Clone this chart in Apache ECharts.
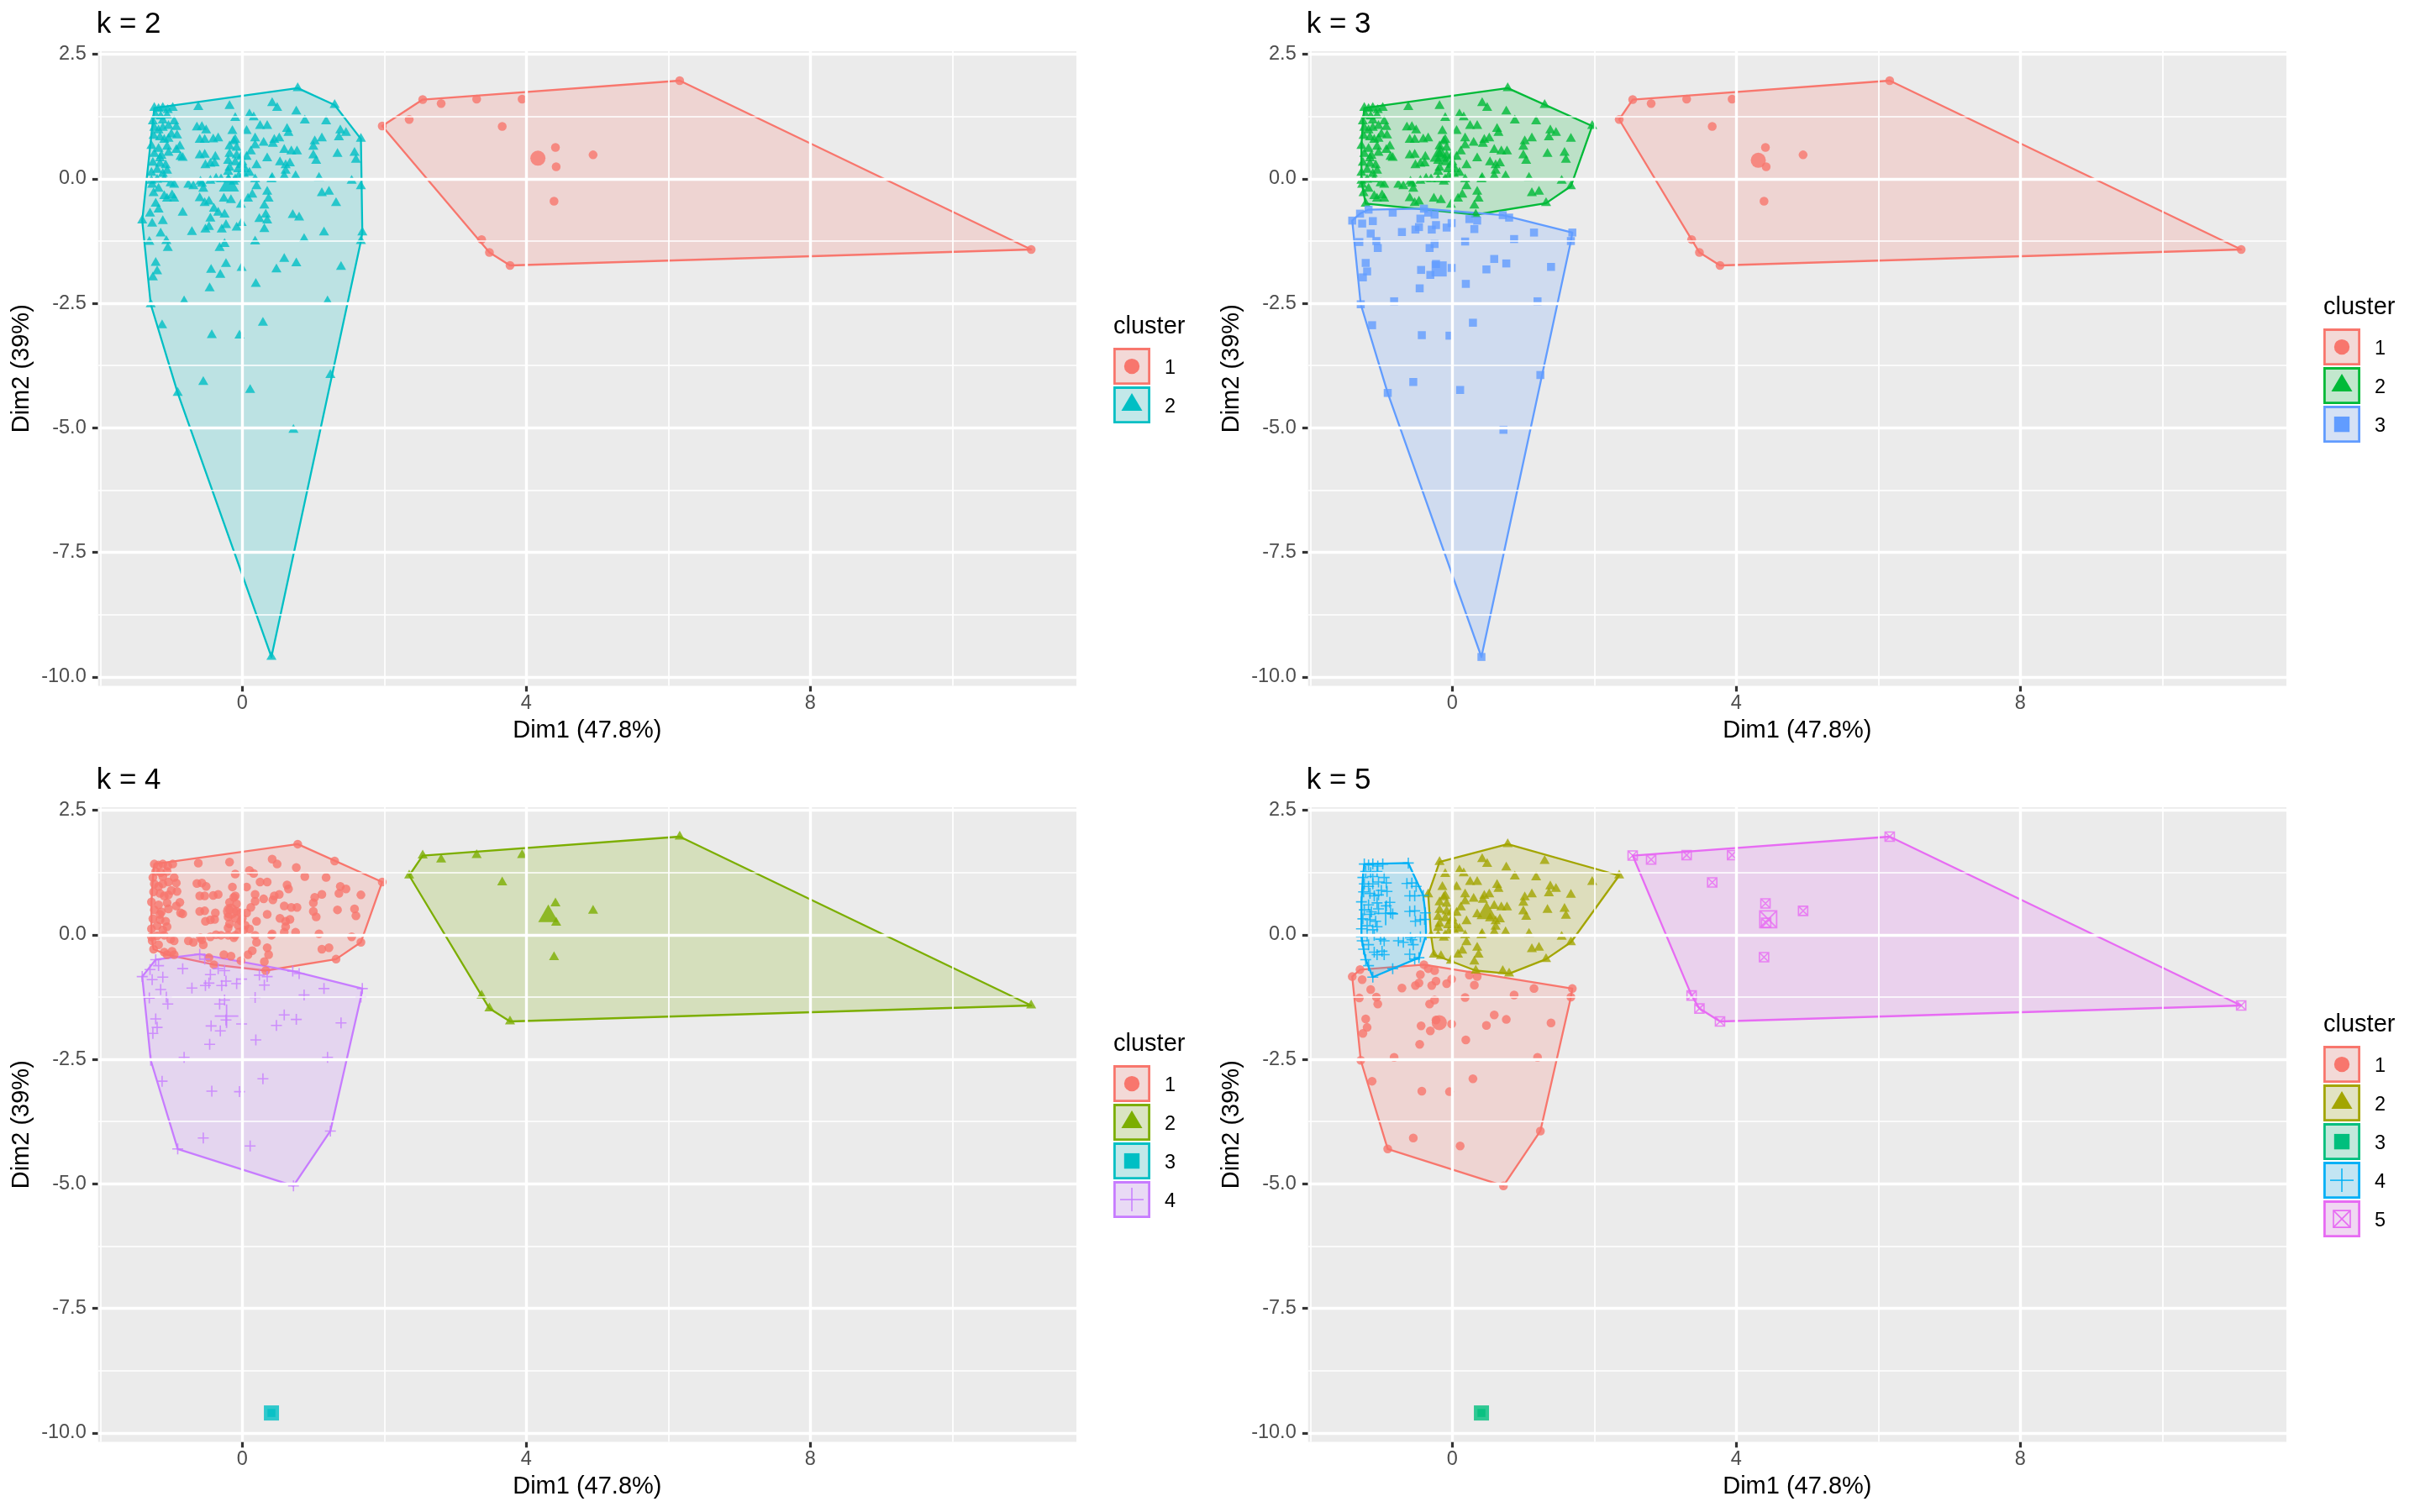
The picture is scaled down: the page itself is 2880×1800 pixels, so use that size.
<!DOCTYPE html>
<html>
<head>
<meta charset="utf-8">
<script src="https://cdn.jsdelivr.net/npm/echarts@6/dist/echarts.min.js"></script>
<style>html,body{margin:0;padding:0;background:#fff}#chart{width:2880px;height:1800px}</style>
</head>
<body>
<div id="chart"></div>
<script>
// ---------------- DATA ----------------
const kValues = [2, 3, 4, 5];
const clusterColors = {
  2: ['#F8766D', '#00BFC4'],
  3: ['#F8766D', '#00BA38', '#619CFF'],
  4: ['#F8766D', '#7CAE00', '#00BFC4', '#C77CFF'],
  5: ['#F8766D', '#A3A500', '#00BF7D', '#00B0F6', '#E76BF3']
};
const xTickValues = [0, 4, 8];
const xMinorValues = [-2, 2, 6, 10];
const yTickValues = [-10, -7.5, -5, -2.5, 0, 2.5];
const yMinorValues = [-8.75, -6.25, -3.75, -1.25, 1.25];
const xTitle = 'Dim1 (47.8%)';
const yTitle = 'Dim2 (39%)';
const legendTitle = 'cluster';

// point groups: Dim1 values, Dim2 values, cluster for k = 2,3,4,5
const rightX = [2.54, 2.80, 3.30, 3.94, 3.66, 6.16, 4.41, 4.94, 4.42, 4.39, 3.37, 3.48, 3.77, 11.11];
const rightY = [1.59, 1.51, 1.60, 1.60, 1.05, 1.97, 0.63, 0.48, 0.24, -0.45, -1.22, -1.48, -1.74, -1.42];
const rightK = [1, 1, 2, 5];

const bridgeAX = [1.97];
const bridgeAY = [1.06];
const bridgeAK = [1, 2, 1, 2];

const bridgeBX = [2.35];
const bridgeBY = [1.19];
const bridgeBK = [1, 1, 2, 2];

const outlierX = [0.41];
const outlierY = [-9.60];
const outlierK = [2, 3, 3, 3];

const lowerX = [-1.41, -1.27, -1.30, -1.15, -1.07, -1.05, -1.31, -1.22, -1.20, -1.26, -1.29, -0.82, -1.13,
  -0.71, -0.52, -0.47, -0.45, -0.34, -0.25, -0.29, -0.23, -0.25, -0.32, -0.44, -0.31, -0.46,
  -0.01, -0.08, -0.01,
  0.24, 0.35, 0.31, 0.18, 0.19, 0.48, 0.59, 0.76, 0.87, 1.15, 1.69, 1.67, 1.39, 1.20, 0.29,
  -0.43, -0.04, -0.55, 0.11, -0.91, 1.24, 0.72, -0.23];
const lowerY = [-0.84, -0.90, -0.70, -1.10, -1.25, -1.39, -1.27, -1.69, -1.86, -1.98, -2.52, -2.46, -2.94,
  -1.07, -1.02, -0.97, -0.80, -0.68, -0.72, -1.02, -0.93, -1.31, -1.39, -1.83, -1.93, -2.20,
  -1.79, -0.98, -0.89,
  -0.81, -0.84, -1.01, -1.26, -2.11, -1.82, -1.61, -1.70, -1.21, -1.08, -1.08, -1.25, -1.77, -2.46, -2.89,
  -3.14, -3.15, -4.08, -4.24, -4.30, -3.94, -5.04, -1.71];
const lowerK = [2, 3, 4, 1];

const lowerTopX = [-0.40];
const lowerTopY = [-0.60];
const lowerTopK = [2, 3, 1, 1];

const oliveX = [0.78, 1.30, 1.67, -0.18, 0.42, 0.49, 0.76, 0.88, 1.18, 0.10,
  -0.10, 0.16, 0.25, 0.35, 0.06, -0.14, -0.34, -0.10, 0.18, 0.30,
  0.45, 0.63, 0.65, 1.38, 1.46, 1.36, 1.12, 1.02, 1.00, 0.59,
  0.69, 0.77, 1.34, 1.58, 1.60, 1.00, 1.04, 0.53, 0.61, 0.18,
  0.35, 0.20, -0.12, -0.18, -0.08, -0.02, 0.06, -0.20, -0.10, 0.00,
  -0.18, -0.06, 0.04, -0.30, -0.20, -0.10, 0.18, 0.20, 0.41, 0.59,
  0.75, 1.08, 1.54, 1.67, 1.12, 1.22, 1.32, 0.35, 0.37, 0.31,
  0.14, 0.08, -0.02, -0.26, 0.33,
  0.67, 0.61, 0.42, -0.16, -0.12, -0.20, -0.18, -0.08, 0.43, 0.52, -0.05, 0.02, 0.10, -0.02, 0.12];
const oliveY = [1.82, 1.48, 0.80, 1.46, 1.52, 1.42, 1.35, 1.17, 1.15, 1.29,
  1.22, 1.23, 1.06, 1.06, 0.96, 0.96, 0.81, 0.78, 0.81, 0.72,
  0.78, 1.00, 0.92, 0.97, 0.92, 0.83, 0.81, 0.75, 0.64, 0.58,
  0.55, 0.55, 0.50, 0.52, 0.38, 0.47, 0.36, 0.33, 0.27, 0.67,
  0.41, 0.27, 0.75, 0.50, 0.47, 0.44, 0.44, 0.36, 0.33, 0.33,
  0.22, 0.19, 0.19, -0.01, -0.01, -0.01, -0.01, -0.15, -0.01, 0.05,
  0.05, 0.02, -0.04, -0.15, -0.29, -0.26, -0.49, -0.26, -0.40, -0.54,
  -0.32, -0.40, -0.52, -0.40, -0.72,
  0.31, 0.16, 0.02, -0.43, -0.06, 0.14, 0.65, 0.62, 0.70, 0.81, 0.05, 0.10, 0.12, 0.28, 0.55];
const oliveK = [2, 2, 1, 2];

const oliveLowX = [0.71, 0.80];
const oliveLowY = [-0.73, -0.78];
const oliveLowK = [2, 3, 4, 2];

const crossX = [-1.24, -1.18, -1.12, -1.05, -0.98,
  -1.22, -1.15, -1.06,
  -1.26, -1.12, -0.96,
  -1.24, -1.12, -1.04, -0.93,
  -1.25, -1.16, -1.04, -0.92,
  -1.28, -1.18, -1.06, -0.88,
  -1.24, -1.14, -1.04,
  -1.26, -1.16, -1.08,
  -1.28, -1.20, -1.12, -1.06,
  -1.28, -1.20, -1.10, -1.01, -0.96,
  -1.18, -1.27,
  -1.10, -1.06, -0.96, -0.99,
  -0.62, -0.57, -0.51, -0.53, -0.53, -0.38, -0.39, -0.84, -0.93, -0.87, -1.00, -0.69, -0.59, -0.55, -0.37, -0.47, -0.57,
  -1.18, -1.10, -1.16, -1.25, -0.76, -0.45, -0.60, -0.52, -0.45, -0.41, -0.60, -0.64];
const crossY = [1.42, 1.40, 1.42, 1.38, 1.42,
  1.27, 1.25, 1.27,
  1.15, 1.17, 1.15,
  1.02, 1.02, 1.06, 1.04,
  0.86, 0.83, 0.80, 0.87,
  0.66, 0.60, 0.64, 0.65,
  0.50, 0.46, 0.52,
  0.32, 0.30, 0.27,
  0.12, 0.18, 0.10, 0.16,
  -0.04, -0.02, -0.01, -0.09, -0.12,
  -0.20, -0.12,
  -0.35, -0.40, -0.40, -0.33,
  1.44, 1.04, 0.97, 0.78, 0.48, 0.44, 0.31, 0.42, 0.58, 0.44, 0.89, -0.15, -0.06, -0.20, 0.00, -0.46, -0.10,
  0.97, 0.78, 0.41, -0.29, -0.12, -0.04, 0.47, 0.27, 0.30, 0.79, 0.78, 1.03];
const crossK = [2, 2, 1, 4];

const crossMidX = [-0.60, -0.53, -1.22];
const crossMidY = [-0.39, -0.49, -0.50];
const crossMidK = [2, 2, 4, 4];

const crossLowX = [-0.84, -1.12, -1.18];
const crossLowY = [-0.68, -0.85, -0.62];
const crossLowK = [2, 3, 4, 4];

// ---------------- BUILD ----------------
const groups = [
  { x: rightX, y: rightY, k: rightK },
  { x: bridgeAX, y: bridgeAY, k: bridgeAK },
  { x: bridgeBX, y: bridgeBY, k: bridgeBK },
  { x: outlierX, y: outlierY, k: outlierK },
  { x: lowerX, y: lowerY, k: lowerK },
  { x: lowerTopX, y: lowerTopY, k: lowerTopK },
  { x: oliveX, y: oliveY, k: oliveK },
  { x: oliveLowX, y: oliveLowY, k: oliveLowK },
  { x: crossX, y: crossY, k: crossK },
  { x: crossMidX, y: crossMidY, k: crossMidK },
  { x: crossLowX, y: crossLowY, k: crossLowK }
];

const FONT = '"Liberation Sans", Arial, Helvetica, sans-serif';
const GRID_L = 116.7, GRID_T = 61, GRID_W = 1164.3, GRID_H = 755.5;
const X_MIN = -2.032, X_MAX = 11.747, Y_MIN = -10.18, Y_MAX = 2.56;
const PLUS = 'path://M0,5L10,5M5,0L5,10';
const BOXX = 'path://M0,0L10,0L10,10L0,10ZM0,0L10,10M10,0L0,10';
const shapeDefs = [
  { symbol: 'circle', size: 10.5, big: 18, stroke: false },
  { symbol: 'triangle', size: [12, 10.5], big: [24, 21], stroke: false },
  { symbol: 'rect', size: 9.5, big: 18, stroke: false },
  { symbol: PLUS, size: 13, big: 28, stroke: true },
  { symbol: BOXX, size: 11, big: 20, stroke: true }
];

function hexToRgb(h) { return [parseInt(h.substr(1, 2), 16), parseInt(h.substr(3, 2), 16), parseInt(h.substr(5, 2), 16)]; }
function rgba(h, a) { const c = hexToRgb(h); return 'rgba(' + c[0] + ',' + c[1] + ',' + c[2] + ',' + a + ')'; }
function mixOn(h, a, bg) {
  const c = hexToRgb(h), b = hexToRgb(bg);
  return 'rgb(' + c.map((v, i) => Math.round(v * a + b[i] * (1 - a))).join(',') + ')';
}
function convexHull(points) {
  if (points.length < 3) return points.slice();
  const p = points.slice().sort((a, b) => a[0] - b[0] || a[1] - b[1]);
  const cross = (o, a, b) => (a[0] - o[0]) * (b[1] - o[1]) - (a[1] - o[1]) * (b[0] - o[0]);
  const lower = [];
  for (const q of p) { while (lower.length >= 2 && cross(lower[lower.length - 2], lower[lower.length - 1], q) <= 0) lower.pop(); lower.push(q); }
  const upper = [];
  for (let i = p.length - 1; i >= 0; i--) { const q = p[i]; while (upper.length >= 2 && cross(upper[upper.length - 2], upper[upper.length - 1], q) <= 0) upper.pop(); upper.push(q); }
  upper.pop(); lower.pop();
  return lower.concat(upper);
}

const option = {
  animation: false,
  backgroundColor: '#FFFFFF',
  title: [], grid: [], xAxis: [], yAxis: [], series: [], graphic: []
};

kValues.forEach((k, pi) => {
  const dx = (pi % 2) * 1440, dy = Math.floor(pi / 2) * 900;
  const cols = clusterColors[k];

  const clusters = [];
  for (let c = 1; c <= k; c++) {
    const pts = [];
    groups.forEach(g => { if (g.k[pi] === c) g.x.forEach((x, j) => pts.push([x, g.y[j]])); });
    clusters.push(pts);
  }
  const hulls = clusters.map(convexHull);
  const centroids = clusters.map(pts => [
    pts.reduce((s, q) => s + q[0], 0) / pts.length,
    pts.reduce((s, q) => s + q[1], 0) / pts.length
  ]);

  option.title.push({
    text: 'k = ' + k, left: GRID_L + dx - 2, top: 12 + dy, padding: 0,
    textStyle: { fontSize: 35, fontWeight: 'normal', color: '#000000', fontFamily: FONT }
  });
  option.grid.push({
    left: GRID_L + dx, top: GRID_T + dy, width: GRID_W, height: GRID_H,
    show: true, backgroundColor: '#EBEBEB', borderWidth: 0, containLabel: false, outerBoundsMode: 'none'
  });
  option.xAxis.push({
    gridIndex: pi, type: 'value', min: X_MIN, max: X_MAX,
    axisLine: { show: true, onZero: false, lineStyle: { color: 'rgba(0,0,0,0)', width: 0 } },
    axisTick: { show: true, length: 6.8, customValues: xTickValues, lineStyle: { color: '#333333', width: 3.2 } },
    axisLabel: { show: true, customValues: xTickValues, margin: 9, color: '#4D4D4D', fontSize: 23.5, fontFamily: FONT, formatter: v => String(v) },
    splitLine: { show: false }, minorSplitLine: { show: false },
    name: xTitle, nameLocation: 'middle', nameGap: 39,
    nameTextStyle: { fontSize: 29, color: '#000000', fontFamily: FONT }
  });
  option.yAxis.push({
    gridIndex: pi, type: 'value', min: Y_MIN, max: Y_MAX,
    axisLine: { show: true, onZero: false, lineStyle: { color: 'rgba(0,0,0,0)', width: 0 } },
    axisTick: { show: true, length: 6.8, customValues: yTickValues, lineStyle: { color: '#333333', width: 3.2 } },
    axisLabel: { show: true, customValues: yTickValues, margin: 14, color: '#4D4D4D', fontSize: 23.5, fontFamily: FONT, formatter: v => Number(v).toFixed(1) },
    splitLine: { show: false }, minorSplitLine: { show: false },
    name: yTitle, nameLocation: 'middle', nameGap: 76, nameRotate: 90,
    nameTextStyle: { fontSize: 29, color: '#000000', fontFamily: FONT }
  });

  // panel grid lines through the axis scales
  const gl = [];
  xMinorValues.forEach(v => gl.push({ xAxis: v, lineStyle: { color: '#FFFFFF', width: 1.7, type: 'solid' } }));
  yMinorValues.forEach(v => gl.push({ yAxis: v, lineStyle: { color: '#FFFFFF', width: 1.7, type: 'solid' } }));
  xTickValues.forEach(v => gl.push({ xAxis: v, lineStyle: { color: '#FFFFFF', width: 3.4, type: 'solid' } }));
  yTickValues.forEach(v => gl.push({ yAxis: v, lineStyle: { color: '#FFFFFF', width: 3.4, type: 'solid' } }));
  option.series.push({
    type: 'scatter', xAxisIndex: pi, yAxisIndex: pi, data: [], z: 1, silent: true,
    markLine: { silent: true, symbol: ['none', 'none'], label: { show: false }, animation: false,
      emphasis: { disabled: true }, data: gl }
  });

  // convex hulls
  option.series.push({
    type: 'custom', xAxisIndex: pi, yAxisIndex: pi, z: 2, silent: true,
    data: centroids.map((c, ci) => [c[0], c[1], ci]), encode: { x: 0, y: 1 },
    renderItem: (params, api) => {
      const ci = params.dataIndex;
      const h = hulls[ci];
      if (h.length < 3) return { type: 'group', children: [] };
      return {
        type: 'polygon',
        shape: { points: h.map(q => api.coord(q)) },
        style: { fill: rgba(cols[ci], 0.2), stroke: cols[ci], lineWidth: 2.3, lineJoin: 'round' }
      };
    }
  });

  // points
  clusters.forEach((pts, ci) => {
    const sd = shapeDefs[ci];
    const style = sd.stroke
      ? { color: 'rgba(0,0,0,0)', borderColor: cols[ci], borderWidth: 1.6 }
      : { color: cols[ci], borderWidth: 0 };
    option.series.push({
      type: 'scatter', name: String(ci + 1), xAxisIndex: pi, yAxisIndex: pi, z: 3, silent: true,
      data: pts, symbol: sd.symbol, symbolSize: sd.size,
      symbolOffset: ci === 1 ? [0, -1.75] : [0, 0],
      itemStyle: style
    });
  });
  // cluster centres (larger symbols)
  centroids.forEach((c, ci) => {
    const sd = shapeDefs[ci];
    const style = sd.stroke
      ? { color: 'rgba(0,0,0,0)', borderColor: cols[ci], borderWidth: 1.8 }
      : { color: cols[ci], borderWidth: 0 };
    option.series.push({
      type: 'scatter', xAxisIndex: pi, yAxisIndex: pi, z: 4, silent: true,
      data: [c], symbol: sd.symbol, symbolSize: sd.big,
      symbolOffset: ci === 1 ? [0, -3.5] : [0, 0],
      itemStyle: style
    });
  });

  // legend (ggplot style keys)
  const yc = GRID_T + dy + GRID_H / 2;
  const H = 40.7 + 46 * k - 2;
  const T = yc - H / 2;
  const lx = 1325 + dx;
  option.graphic.push({
    type: 'text', x: lx, y: T + 16, silent: true,
    style: { text: legendTitle, fontSize: 29, fontFamily: FONT, fill: '#000000', verticalAlign: 'middle', align: 'left' }
  });
  for (let ci = 0; ci < k; ci++) {
    const top = T + 40.7 + 46 * ci;
    const cx = lx + 22, cy = top + 22;
    const col = cols[ci];
    const children = [{
      type: 'rect', shape: { x: lx + 1.4, y: top + 1.4, width: 41.2, height: 41.2 },
      style: { fill: mixOn(col, 0.2, '#F2F2F2'), stroke: col, lineWidth: 2.8 }
    }];
    if (ci === 0) children.push({ type: 'circle', shape: { cx: cx, cy: cy, r: 9.2 }, style: { fill: col } });
    if (ci === 1) children.push({ type: 'polygon', shape: { points: [[cx, cy - 14], [cx + 12.5, cy + 7], [cx - 12.5, cy + 7]] }, style: { fill: col } });
    if (ci === 2) children.push({ type: 'rect', shape: { x: cx - 9.2, y: cy - 9.2, width: 18.4, height: 18.4 }, style: { fill: col } });
    if (ci === 3) {
      children.push({ type: 'line', shape: { x1: cx - 14, y1: cy, x2: cx + 14, y2: cy }, style: { stroke: col, lineWidth: 1.5 } });
      children.push({ type: 'line', shape: { x1: cx, y1: cy - 14, x2: cx, y2: cy + 14 }, style: { stroke: col, lineWidth: 1.5 } });
    }
    if (ci === 4) {
      children.push({ type: 'rect', shape: { x: cx - 10, y: cy - 10, width: 20, height: 20 }, style: { fill: 'none', stroke: col, lineWidth: 1.6 } });
      children.push({ type: 'line', shape: { x1: cx - 10, y1: cy - 10, x2: cx + 10, y2: cy + 10 }, style: { stroke: col, lineWidth: 1.6 } });
      children.push({ type: 'line', shape: { x1: cx + 10, y1: cy - 10, x2: cx - 10, y2: cy + 10 }, style: { stroke: col, lineWidth: 1.6 } });
    }
    children.push({
      type: 'text', x: lx + 61, y: cy + 2,
      style: { text: String(ci + 1), fontSize: 23.5, fontFamily: FONT, fill: '#000000', verticalAlign: 'middle', align: 'left' }
    });
    option.graphic.push({ type: 'group', silent: true, children: children });
  }
});

const chart = echarts.init(document.getElementById('chart'), null, { renderer: 'canvas', width: 2880, height: 1800 });
chart.setOption(option);
</script>
</body>
</html>
